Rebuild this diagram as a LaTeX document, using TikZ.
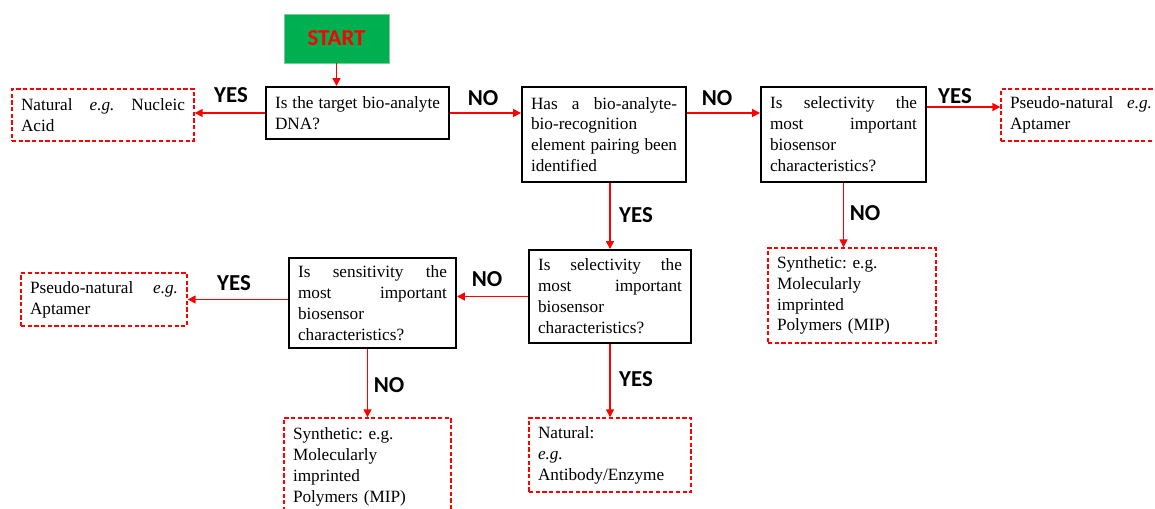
\documentclass[tikz,border=0pt]{standalone}
\usepackage{fontspec}
\setmainfont{Liberation Serif}
\newfontfamily\calibri{Carlito}
\usetikzlibrary{arrows.meta}
\definecolor{startgreen}{RGB}{0,176,80}
\definecolor{startedge}{RGB}{120,205,150}
\hyphenpenalty=10000
\tolerance=10000
\frenchspacing
\begin{document}
\begin{tikzpicture}[x=0.02cm, y=-0.02cm,
    qbox/.style={draw=black, line width=1.1pt, inner xsep=0.18cm, inner ysep=0.08cm, align=justify, font=\fontsize{9.8}{11.9}\selectfont},
    ansbox/.style={draw=red, line width=0.8pt, dash pattern=on 2.4pt off 1.4pt, inner xsep=0.18cm, inner ysep=0.08cm, align=justify, font=\fontsize{9.8}{11.9}\selectfont},
    lbl/.style={font=\calibri\bfseries\fontsize{13}{15}\selectfont},
    arr/.style={red, line width=0.9pt, -{Triangle[length=1.6mm,width=1.6mm]}}]
  \useasboundingbox (0,0) rectangle (1155,509);
  \node[fill=startgreen, draw=startedge, line width=0.4pt, minimum width=2.1cm, minimum height=0.98cm, text=red, font=\calibri\bfseries\fontsize{13}{15}\selectfont] (start) at (336.5,38.5) {START};
  \node[qbox, text width=3.30cm, minimum height=1.04cm] (q1) at (357.5,113) {Is the target bio-analyte\linebreak DNA?};
  \node[ansbox, text width=3.28cm, minimum height=1.04cm] (nat) at (103,115) {Natural \textit{e.g.} Nucleic\linebreak Acid};
  \node[qbox, text width=2.92cm, minimum height=1.9cm] (q2) at (604,134.5) {Has a bio-analyte-\linebreak bio-recognition\\ element pairing been\linebreak identified};
  \node[qbox, text width=2.94cm, minimum height=1.9cm] (q3) at (843.5,134.5) {Is selectivity the\linebreak most important\linebreak biosensor\\ characteristics?};
  \node[ansbox, text width=2.84cm, minimum height=1.04cm] (pr) at (1081,115) {Pseudo-natural \textit{e.g.}\linebreak Aptamer};
  \node[ansbox, align=left, text width=3.0cm, minimum height=1.9cm] (synr) at (852,295.5) {Synthetic: e.g.\\ Molecularly\\ imprinted\\ Polymers (MIP)};
  \node[qbox, text width=2.88cm, minimum height=1.86cm] (q4) at (610,296.5) {Is selectivity the\linebreak most important\linebreak biosensor\\ characteristics?};
  \node[qbox, text width=2.98cm, minimum height=1.8cm] (q5) at (372.5,303) {Is sensitivity the\linebreak most important\linebreak biosensor\\ characteristics?};
  \node[ansbox, text width=2.96cm, minimum height=1.06cm] (pl) at (104,299.5) {Pseudo-natural \textit{e.g.}\linebreak Aptamer};
  \node[ansbox, align=left, text width=2.98cm, minimum height=1.96cm] (synb) at (367.5,467) {Synthetic: e.g.\\ Molecularly\\ imprinted\\ Polymers (MIP)};
  \node[ansbox, align=left, text width=2.88cm, minimum height=1.48cm] (natb) at (610,455) {Natural:\\ \textit{e.g.}\\ Antibody/Enzyme};
  \coordinate (q3y) at ([yshift=-0.42cm]q3.north east);
  \draw[arr] (start.south) -- (start.south |- q1.north);
  \draw[arr] (q1.west) -- (q1.west -| nat.east);
  \draw[arr] (q1.east) -- (q1.east -| q2.west);
  \draw[arr] (q1.east -| q2.east) -- (q1.east -| q3.west);
  \draw[arr] (q3y) -- (q3y -| pr.west);
  \draw[arr] (q3.south) -- (q3.south |- synr.north);
  \draw[arr] (q4.north |- q2.south) -- (q4.north);
  \draw[arr] (q4.west) -- (q4.west -| q5.east);
  \draw[arr] (pl.east -| q5.west) -- (pl.east);
  \draw[arr] (synb.north |- q5.south) -- (synb.north);
  \draw[arr] (q4.south) -- (natb.north);
  \node[lbl] (yes1) at (231,95) {YES};
  \node[lbl] (no1) at (483,98) {NO};
  \node[lbl] (no2) at (717,98) {NO};
  \node[lbl] (yes2) at (955,96) {YES};
  \node[lbl] (no3) at (865,213) {NO};
  \node[lbl] (yes3) at (636,215) {YES};
  \node[lbl] (no4) at (487,279) {NO};
  \node[lbl] (yes4) at (234,283) {YES};
  \node[lbl] (no5) at (389,385) {NO};
  \node[lbl] (yes5) at (636,379) {YES};
\end{tikzpicture}
\end{document}
